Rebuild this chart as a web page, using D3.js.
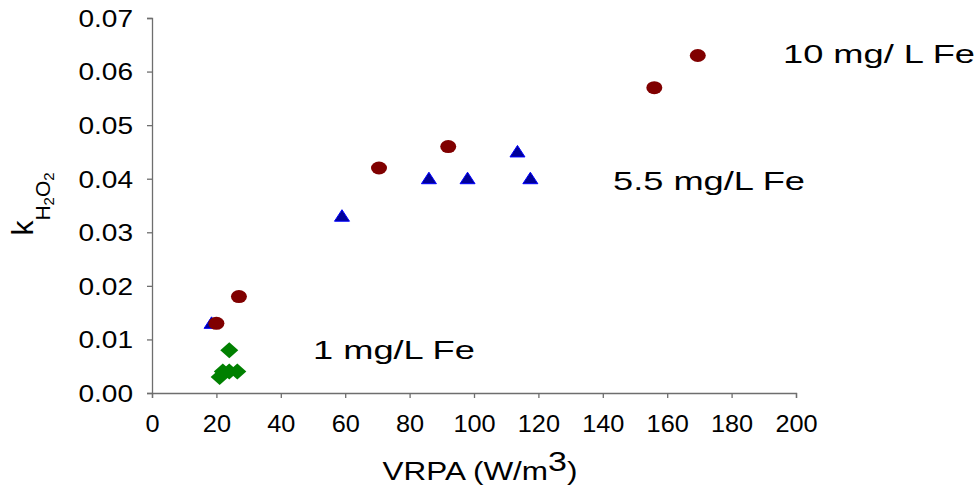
<!DOCTYPE html>
<html>
<head>
<meta charset="utf-8">
<script src="https://cdn.jsdelivr.net/npm/d3@7"></script>
<style>
  body { margin: 0; background: #fff; }
  svg text { font-family: "Liberation Sans", Arial, sans-serif; }
</style>
</head>
<body>
<div id="chart"></div>
<script>
// series values
var fe10X = [20, 27, 70.5, 92, 156, 169.5];
var fe10Y = [0.013, 0.018, 0.042, 0.046, 0.057, 0.063];
var fe55X = [18.5, 59, 86, 98, 113.5, 117.5];
var fe55Y = [0.013, 0.033, 0.040, 0.040, 0.045, 0.040];
var fe1X = [21, 22, 24, 26.5, 24];
var fe1Y = [0.003, 0.004, 0.004, 0.004, 0.008];
var xTicks = [0, 20, 40, 60, 80, 100, 120, 140, 160, 180, 200];
var yTicks = [0, 0.01, 0.02, 0.03, 0.04, 0.05, 0.06, 0.07];

var margin = { top: 18, right: 180, bottom: 95, left: 152 };
var width = 976, height = 488;

var svg = d3.select("#chart").append("svg")
  .attr("width", width)
  .attr("height", height);

var x = d3.scaleLinear().domain([0, 200]).range([margin.left, width - margin.right]);
var y = d3.scaleLinear().domain([0, 0.07]).range([height - margin.bottom, margin.top]);

var axisColor = "#6e6e6e";

var xAxis = svg.append("g")
  .attr("transform", "translate(0," + y(0) + ")")
  .call(d3.axisBottom(x).tickValues(xTicks).tickSize(5).tickFormat(d3.format("d")));
xAxis.selectAll("text")
  .attr("font-size", 23).attr("fill", "#000")
  .attr("y", 0).attr("dy", 0)
  .attr("transform", "translate(0,39) scale(1.1,1)");

var yAxis = svg.append("g")
  .attr("transform", "translate(" + x(0) + ",0)")
  .call(d3.axisLeft(y).tickValues(yTicks).tickSize(5).tickFormat(d3.format(".2f")));
yAxis.selectAll("text")
  .attr("font-size", 23).attr("fill", "#000")
  .attr("x", 0).attr("dy", "0.36em")
  .attr("transform", "translate(-19,0) scale(1.22,1)");

svg.selectAll(".domain, .tick line").attr("stroke", axisColor).attr("stroke-width", 1.3);

// axis titles
var xt = svg.append("text")
  .attr("transform", "translate(" + ((x(0) + x(200)) / 2 + 6) + ",480) scale(1.26,1)")
  .attr("text-anchor", "middle")
  .attr("font-size", 25);
xt.append("tspan").text("VRPA (W/m");
xt.append("tspan").attr("dy", -9).attr("font-size", 27).text("3");
xt.append("tspan").attr("dy", 9).text(")");

var yt = svg.append("text")
  .attr("transform", "translate(33,204) rotate(-90)")
  .attr("text-anchor", "middle")
  .attr("font-size", 30);
yt.append("tspan").text("k");
yt.append("tspan").attr("dy", 17).attr("font-size", 21).text("H");
yt.append("tspan").attr("dy", 4).attr("font-size", 15).text("2");
yt.append("tspan").attr("dy", -4).attr("font-size", 21).text("O");
yt.append("tspan").attr("dy", 4).attr("font-size", 15).text("2");

// triangles (5.5 mg/L)
svg.append("g").selectAll("path")
  .data(d3.range(fe55X.length))
  .enter().append("path")
  .attr("d", "M0,-6.5 L7.5,5 L-7.5,5 Z")
  .attr("transform", function (i) { return "translate(" + x(fe55X[i]) + "," + y(fe55Y[i]) + ")"; })
  .attr("fill", "#000099")
  .attr("stroke", "#0000ff")
  .attr("stroke-width", 1);

// circles (10 mg/L)
svg.append("g").selectAll("ellipse")
  .data(d3.range(fe10X.length))
  .enter().append("ellipse")
  .attr("cx", function (i) { return x(fe10X[i]); })
  .attr("cy", function (i) { return y(fe10Y[i]); })
  .attr("rx", 8)
  .attr("ry", 6.5)
  .attr("fill", "#800000");

// diamonds (1 mg/L)
svg.append("g").selectAll("path")
  .data(d3.range(fe1X.length))
  .enter().append("path")
  .attr("d", "M0,-8 L9,0 L0,8 L-9,0 Z")
  .attr("transform", function (i) { return "translate(" + x(fe1X[i]) + "," + y(fe1Y[i]) + ")"; })
  .attr("fill", "#008000");

// series labels
var labels = [
  { text: "10 mg/ L Fe", x: 783, y: 63 },
  { text: "5.5 mg/L Fe", x: 613, y: 190 },
  { text: "1 mg/L Fe", x: 313, y: 359 }
];
svg.append("g").selectAll("text")
  .data(labels)
  .enter().append("text")
  .attr("transform", function (d) { return "translate(" + d.x + "," + d.y + ") scale(1.45,1)"; })
  .attr("font-size", 25)
  .text(function (d) { return d.text; });
</script>
</body>
</html>
